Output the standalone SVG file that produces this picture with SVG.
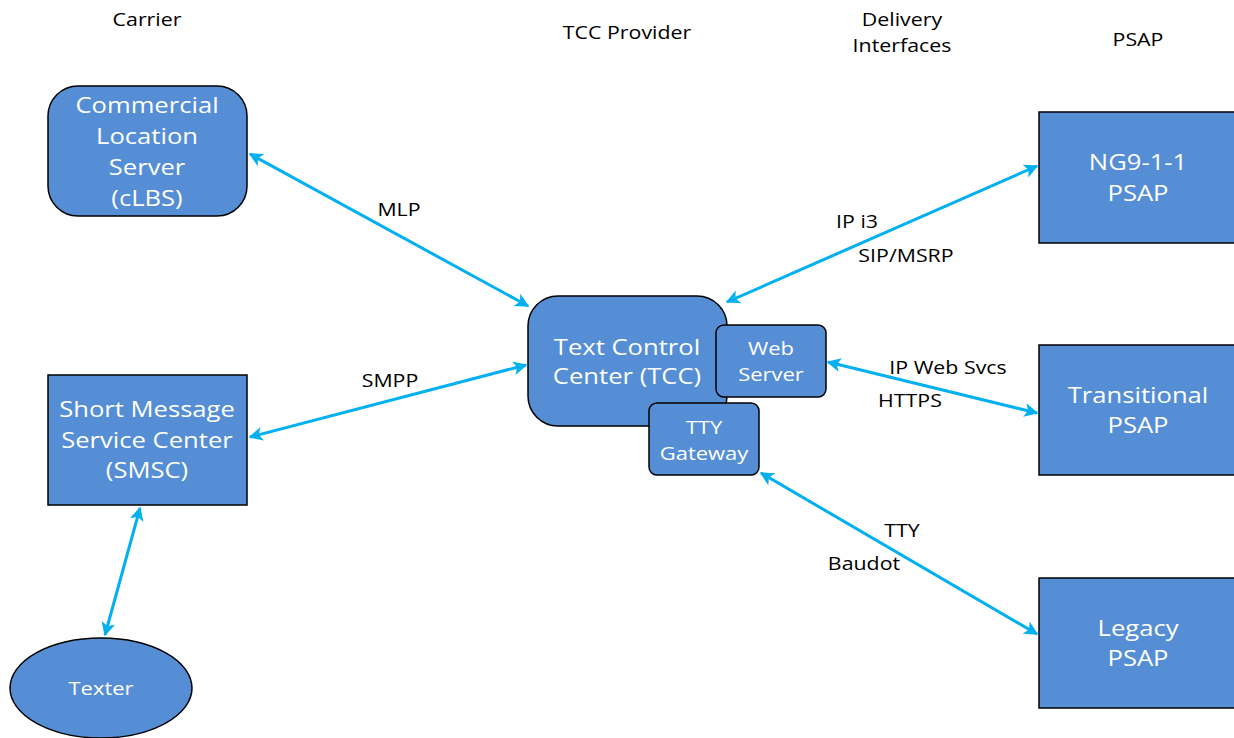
<svg xmlns="http://www.w3.org/2000/svg" width="1234" height="738" viewBox="0 0 1234 738">
<style>
.box{fill:#558ed5;stroke:#000;stroke-width:1.5}
.nt{font-family:"Open Sans","Noto Sans",sans-serif;font-size:21px;fill:#fff;text-anchor:middle}
.st{font-family:"Open Sans","Noto Sans",sans-serif;font-size:18px;fill:#fff;text-anchor:middle}
.lb{font-family:"Open Sans","Noto Sans",sans-serif;font-size:17.5px;fill:#000;text-anchor:middle}
.hd{font-family:"Open Sans","Noto Sans",sans-serif;font-size:17.5px;fill:#000;text-anchor:middle}
.cn{stroke:#00b0f0;stroke-width:3;fill:none;marker-start:url(#ah);marker-end:url(#ah)}
</style>
<defs>
<marker id="ah" viewBox="0 0 10 10" refX="9" refY="5" markerWidth="7" markerHeight="7" orient="auto-start-reverse" markerUnits="userSpaceOnUse" overflow="visible">
<path d="M0,0 L10,5 L0,10 L2.5,5 Z" fill="#00b0f0" transform="scale(2)" transform-origin="9 5"/>
</marker>
</defs>
<rect width="1234" height="738" fill="#fff"/>
<g id="headers">
<text class="hd" transform="translate(147,26) scale(1.22,1)">Carrier</text>
<text class="hd" transform="translate(627,39) scale(1.22,1)">TCC Provider</text>
<text class="hd" transform="translate(902,26) scale(1.22,1)">Delivery</text>
<text class="hd" transform="translate(902,52) scale(1.22,1)">Interfaces</text>
<text class="hd" transform="translate(1138,46) scale(1.22,1)">PSAP</text>
</g>
<g id="connectors">
<line class="cn" x1="250" y1="154" x2="528" y2="306"/>
<line class="cn" x1="250" y1="437" x2="526" y2="365"/>
<line class="cn" x1="140" y1="508" x2="105" y2="635"/>
<line class="cn" x1="727" y1="302" x2="1037" y2="166"/>
<line class="cn" x1="828" y1="362" x2="1037" y2="413"/>
<line class="cn" x1="761" y1="473" x2="1037" y2="634"/>
</g>
<g id="labels">
<text class="lb" transform="translate(399,216) scale(1.22,1)">MLP</text>
<text class="lb" transform="translate(390,387) scale(1.22,1)">SMPP</text>
<text class="lb" transform="translate(857,228) scale(1.22,1)">IP i3</text>
<text class="lb" transform="translate(906,262) scale(1.22,1)">SIP/MSRP</text>
<text class="lb" transform="translate(948,374) scale(1.22,1)">IP Web Svcs</text>
<text class="lb" transform="translate(910,407) scale(1.22,1)">HTTPS</text>
<text class="lb" transform="translate(902,537) scale(1.22,1)">TTY</text>
<text class="lb" transform="translate(864,570) scale(1.22,1)">Baudot</text>
</g>
<g id="clbs">
<rect class="box" x="48" y="86" width="199" height="130" rx="30"/>
<text class="nt" transform="translate(147,113) scale(1.22,1)">Commercial</text>
<text class="nt" transform="translate(147,144) scale(1.22,1)">Location</text>
<text class="nt" transform="translate(147,175) scale(1.22,1)">Server</text>
<text class="nt" transform="translate(147,206) scale(1.22,1)">(cLBS)</text>
</g>
<g id="smsc">
<rect class="box" x="48" y="375" width="199" height="130"/>
<text class="nt" transform="translate(147,417) scale(1.22,1)">Short Message</text>
<text class="nt" transform="translate(147,448) scale(1.22,1)">Service Center</text>
<text class="nt" transform="translate(147,478) scale(1.22,1)">(SMSC)</text>
</g>
<g id="texter">
<ellipse class="box" cx="101" cy="688" rx="91" ry="50"/>
<text class="st" transform="translate(101,695) scale(1.22,1)">Texter</text>
</g>
<g id="tcc">
<rect class="box" x="528" y="296" width="199" height="130" rx="30"/>
<text class="nt" transform="translate(627,355) scale(1.22,1)">Text Control</text>
<text class="nt" transform="translate(627,384) scale(1.22,1)">Center (TCC)</text>
</g>
<g id="webserver">
<rect class="box" x="716" y="325" width="110" height="72" rx="8"/>
<text class="st" transform="translate(771,355) scale(1.22,1)">Web</text>
<text class="st" transform="translate(771,381) scale(1.22,1)">Server</text>
</g>
<g id="ttygateway">
<rect class="box" x="649" y="403" width="110" height="72" rx="8"/>
<text class="st" transform="translate(704,434) scale(1.22,1)">TTY</text>
<text class="st" transform="translate(704,460) scale(1.22,1)">Gateway</text>
</g>
<g id="ng911">
<rect class="box" x="1039" y="112" width="200" height="131"/>
<text class="nt" transform="translate(1138,170) scale(1.22,1)">NG9-1-1</text>
<text class="nt" transform="translate(1138,201) scale(1.22,1)">PSAP</text>
</g>
<g id="transitional">
<rect class="box" x="1039" y="345" width="200" height="130"/>
<text class="nt" transform="translate(1138,403) scale(1.22,1)">Transitional</text>
<text class="nt" transform="translate(1138,433) scale(1.22,1)">PSAP</text>
</g>
<g id="legacy">
<rect class="box" x="1039" y="578" width="200" height="130"/>
<text class="nt" transform="translate(1138,636) scale(1.22,1)">Legacy</text>
<text class="nt" transform="translate(1138,666) scale(1.22,1)">PSAP</text>
</g>
</svg>
